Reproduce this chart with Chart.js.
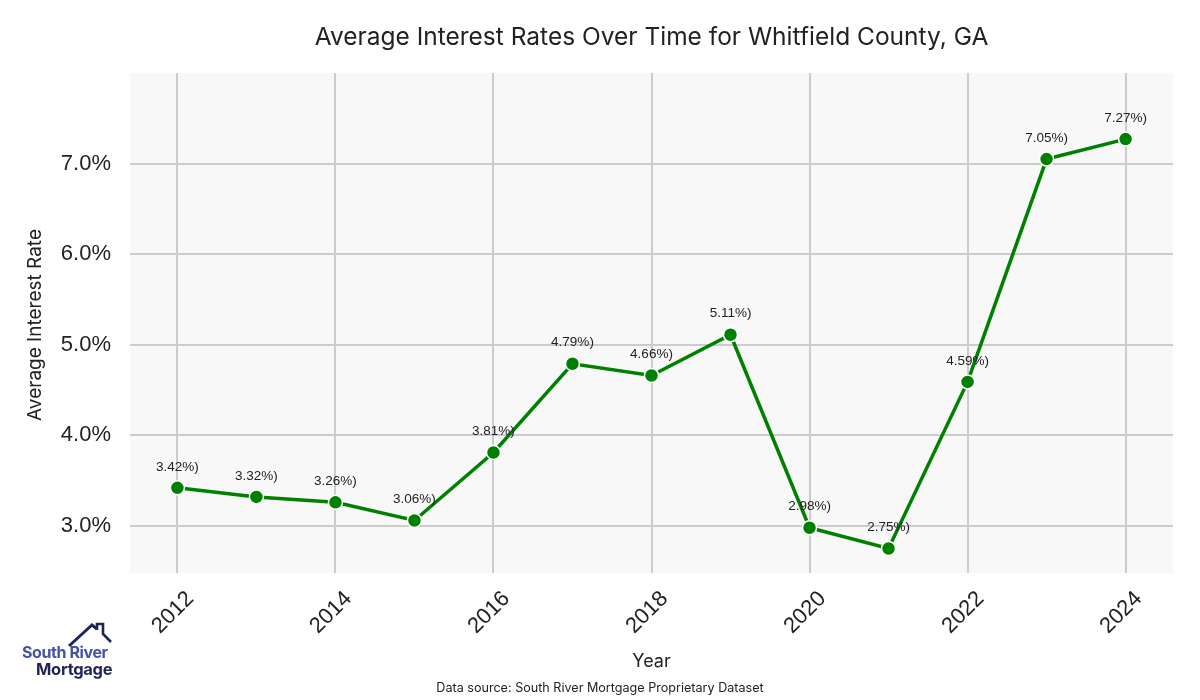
<!DOCTYPE html>
<html>
<head>
<meta charset="utf-8">
<script src="https://cdn.jsdelivr.net/npm/chart.js@4"></script>
<style>
  body { margin: 0; background: #fff; }
  #wrap { position: relative; width: 1200px; height: 700px; }
  #logo { position: absolute; left: 0; top: 600px; width: 130px; height: 85px; font-family: "Inter", sans-serif; font-weight: 700; }
  #logo svg { position: absolute; left: 0; top: 0; }
  #logo .l1 { position: absolute; left: 22px; top: 42px; font-size: 16px; color: #4352a6; letter-spacing: -0.4px; white-space: nowrap; }
  #logo .l2 { position: absolute; left: 36px; top: 59px; font-size: 16.5px; color: #1f2556; letter-spacing: -0.3px; white-space: nowrap; }
</style>
</head>
<body>
<div id="wrap">
  <canvas id="chart" width="1200" height="700"></canvas>
  <div id="logo">
    <svg width="130" height="50">
      <polyline points="69,46 92,25 97,29" fill="none" stroke="#1f2556" stroke-width="3"/>
      <polyline points="97,30 97,24 103,24 103,34 111,42" fill="none" stroke="#1f2556" stroke-width="2.6"/>
    </svg>
    <div class="l1">South River</div>
    <div class="l2">Mortgage</div>
  </div>
</div>
<script>
const years = [2012, 2013, 2014, 2015, 2016, 2017, 2018, 2019, 2020, 2021, 2022, 2023, 2024];
const rates = [3.42, 3.32, 3.26, 3.06, 3.81, 4.79, 4.66, 5.11, 2.98, 2.75, 4.59, 7.05, 7.27];
const xTicks = [2012, 2014, 2016, 2018, 2020, 2022, 2024];
const yTicks = [3, 4, 5, 6, 7];

const titleText = "Average Interest Rates Over Time for Whitfield County, GA";
const sourceText = "Data source: South River Mortgage Proprietary Dataset";

const extras = {
  id: "extras",
  afterDatasetsDraw(chart) {
    const ctx = chart.ctx;
    const meta = chart.getDatasetMeta(0);
    ctx.save();
    ctx.fillStyle = "#222";
    ctx.font = "13.5px 'Liberation Sans', Arial, sans-serif";
    ctx.textAlign = "center";
    ctx.textBaseline = "middle";
    meta.data.forEach((pt, i) => {
      ctx.fillText(rates[i].toFixed(2) + "%)", pt.x, pt.y - 21);
    });
    ctx.restore();
  },
  afterDraw(chart) {
    const ctx = chart.ctx;
    const area = chart.chartArea;
    const cx = (area.left + area.right) / 2;
    ctx.save();
    ctx.fillStyle = "#222";
    ctx.textAlign = "center";
    ctx.textBaseline = "middle";
    ctx.font = "24.5px Inter, sans-serif";
    ctx.fillText(titleText, cx, 38);
    ctx.font = "18px Inter, sans-serif";
    ctx.fillText("Year", cx, 662);
    ctx.font = "12.6px Inter, sans-serif";
    ctx.fillText(sourceText, 600, 688);
    ctx.translate(35, (area.top + area.bottom) / 2 + 2);
    ctx.rotate(-Math.PI / 2);
    ctx.font = "19px Inter, sans-serif";
    ctx.fillText("Average Interest Rate", 0, 0);
    ctx.restore();
  }
};

const bgPlugin = {
  id: "plotBg",
  beforeDraw(chart) {
    const a = chart.chartArea;
    chart.ctx.save();
    chart.ctx.fillStyle = "#f8f8f8";
    chart.ctx.fillRect(a.left, a.top, a.right - a.left, a.bottom - a.top);
    chart.ctx.restore();
  }
};

new Chart(document.getElementById("chart"), {
  type: "line",
  data: {
    datasets: [{
      data: years.map((y, i) => ({ x: y, y: rates[i] })),
      borderColor: "#008000",
      borderWidth: 3.5,
      pointRadius: 7,
      pointBackgroundColor: "#008000",
      pointBorderColor: "#ffffff",
      pointBorderWidth: 1.5,
      fill: false,
      tension: 0
    }]
  },
  options: {
    responsive: false,
    animation: false,
    layout: { padding: { top: 73, right: 27, left: 0, bottom: 0 } },
    plugins: {
      legend: { display: false },
      tooltip: { enabled: false }
    },
    scales: {
      x: {
        type: "linear",
        min: 2011.4,
        max: 2024.6,
        afterBuildTicks: (s) => { s.ticks = xTicks.map(v => ({ value: v })); },
        afterFit: (s) => { s.height = 127; },
        border: { display: false },
        grid: { color: "#cccccc", lineWidth: 2, drawTicks: false },
        ticks: {
          minRotation: 45,
          maxRotation: 45,
          padding: 13,
          labelOffset: 13,
          color: "#222",
          font: { size: 22, family: "'Liberation Sans', Arial, sans-serif" },
          callback: (v) => String(v)
        }
      },
      y: {
        min: 2.48,
        max: 8.0,
        afterBuildTicks: (s) => { s.ticks = yTicks.map(v => ({ value: v })); },
        afterFit: (s) => { s.width = 130; },
        border: { display: false },
        grid: { color: "#cccccc", lineWidth: 2, drawTicks: false },
        ticks: {
          padding: 19,
          color: "#222",
          font: { size: 22, family: "'Liberation Sans', Arial, sans-serif" },
          callback: (v) => v.toFixed(1) + "%"
        }
      }
    }
  },
  plugins: [bgPlugin, extras]
});
</script>
</body>
</html>
